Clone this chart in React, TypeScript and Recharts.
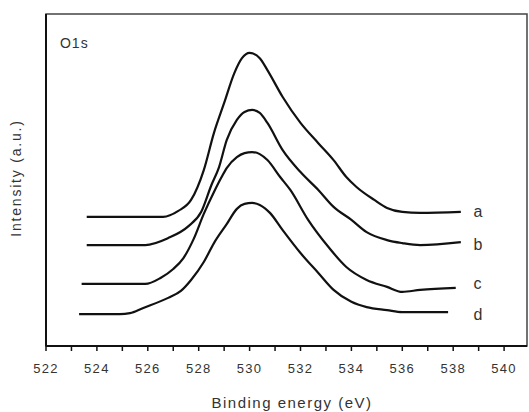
import React from 'react';
import { LineChart, Line, XAxis, YAxis, ReferenceArea, ReferenceDot, Label } from 'recharts';

// binding energy (eV) / intensity (a.u.) pairs
const curveA: [number, number][] = [
  [523.6, 38.9], [526.6, 38.9], [527.2, 40.7], [527.7, 44.0], [528.2, 53.0], [528.6, 64.2],
  [529.0, 73.2], [529.4, 82.2], [529.7, 86.7], [530.0, 88.3], [530.4, 86.7], [530.7, 83.1],
  [531.3, 75.0], [532.0, 67.2], [532.7, 61.1], [533.3, 56.0], [533.8, 50.9], [534.2, 47.9],
  [534.9, 44.0], [535.4, 41.6], [536.0, 40.4], [536.7, 40.1], [538.3, 40.4],
];
const curveB: [number, number][] = [
  [523.6, 30.4], [525.9, 30.4], [526.8, 32.5], [527.6, 36.1], [528.1, 40.4], [528.5, 48.5],
  [528.8, 53.9], [529.1, 62.0], [529.5, 68.1], [529.8, 70.5], [530.1, 71.1], [530.4, 70.2],
  [530.7, 67.2], [531.3, 59.0], [532.0, 52.4], [532.7, 47.0], [533.3, 41.9], [534.0, 38.0],
  [534.6, 34.3], [535.4, 31.9], [536.0, 31.0], [536.7, 30.4], [538.3, 31.3],
];
const curveC: [number, number][] = [
  [523.4, 18.7], [525.9, 18.7], [526.5, 20.5], [527.0, 23.2], [527.4, 26.5], [527.8, 32.2],
  [528.2, 39.8], [528.6, 46.4], [528.9, 50.9], [529.1, 53.6], [529.5, 56.9], [529.8, 58.1],
  [530.1, 58.4], [530.4, 57.8], [530.7, 56.0], [531.2, 50.9], [531.6, 47.0], [532.3, 38.0],
  [533.1, 29.8], [533.8, 23.8], [534.6, 19.9], [535.4, 17.8], [536.0, 16.3], [536.7, 16.9],
  [538.1, 17.5],
];
const curveD: [number, number][] = [
  [523.3, 9.6], [524.9, 9.6], [525.3, 9.9], [525.8, 11.4], [526.8, 14.5], [527.3, 16.6],
  [527.7, 19.9], [528.2, 25.3], [528.6, 31.0], [529.1, 36.7], [529.5, 41.3], [529.8, 42.8],
  [530.1, 43.1], [530.4, 42.5], [530.8, 40.1], [531.3, 34.9], [532.0, 28.0], [532.7, 22.0],
  [533.3, 16.9], [534.0, 13.3], [534.6, 11.7], [535.4, 10.8], [536.0, 10.2], [537.8, 10.2],
];

const seriesNames = ['a', 'b', 'c', 'd'];
const seriesPoints = [curveA, curveB, curveC, curveD];
// where the a/b/c/d tags sit, in data units
const tagEnergy = 538.6;
const tagIntensity = [40.7, 30.7, 19.0, 9.6];

const xTicks = [522, 523, 524, 525, 526, 527, 528, 529, 530, 531, 532, 533, 534, 535, 536, 537, 538, 539, 540];

const FONT = '"Liberation Sans", Arial, Helvetica, sans-serif';

const XTick = (props: any) => {
  const { x, y, payload } = props;
  if (payload.value % 2 !== 0) return <g />;
  return (
    <text x={x} y={y} dy="0.71em" textAnchor="middle" fontSize={13} letterSpacing={1.3}
      fill="#333" fontFamily={FONT}>
      {payload.value}
    </text>
  );
};

const XTitle = () => (
  <text x={292} y={408} textAnchor="middle" fontSize={15} letterSpacing={1.5} fill="#333" fontFamily={FONT}>
    Binding energy (eV)
  </text>
);

const YTitle = () => (
  <text x={16} y={178} transform="rotate(-90 16 178)" textAnchor="middle" dominantBaseline="central"
    fontSize={14} letterSpacing={1.8} fill="#333" fontFamily={FONT}>
    Intensity (a.u.)
  </text>
);

export default function App() {
  const series = seriesPoints.map((pts) => pts.map(([e, v]) => ({ e, v })));
  return (
    <div style={{ position: 'absolute', left: 0, top: 0, background: '#fff' }}>
      <LineChart width={529} height={412} margin={{ top: 14, right: 2, left: 0, bottom: 0 }}>
        <XAxis dataKey="e" type="number" domain={[522, 540.9]} ticks={xTicks} interval={0}
          allowDataOverflow tick={<XTick />} tickSize={5} tickMargin={13} height={66}
          axisLine={{ stroke: '#111', strokeWidth: 2 }} tickLine={{ stroke: '#111', strokeWidth: 1.5 }}>
          <Label content={<XTitle />} />
        </XAxis>
        <YAxis type="number" domain={[0, 100]} width={46} tick={false} tickLine={false}
          axisLine={{ stroke: '#111', strokeWidth: 2 }}>
          <Label content={<YTitle />} />
        </YAxis>
        <ReferenceArea x1={522} x2={540.9} y1={0} y2={100} fill="none" stroke="#444" strokeWidth={1.5} />
        {series.map((data, i) => (
          <Line key={seriesNames[i]} data={data} dataKey="v" type="monotone" dot={false}
            stroke="#111" strokeWidth={2.2} isAnimationActive={false} />
        ))}
        {seriesNames.map((name, i) => (
          <ReferenceDot key={'tag' + name} x={tagEnergy} y={tagIntensity[i]} r={0} fill="none" stroke="none"
            label={{ value: name, position: 'right', offset: 5, fontSize: 16, fill: '#333', fontFamily: FONT }} />
        ))}
        <ReferenceDot x={522.55} y={91.3} r={0} fill="none" stroke="none"
          label={{ value: 'O1s', position: 'right', offset: 0, fontSize: 14, letterSpacing: 1, fill: '#333', fontFamily: FONT }} />
      </LineChart>
    </div>
  );
}
